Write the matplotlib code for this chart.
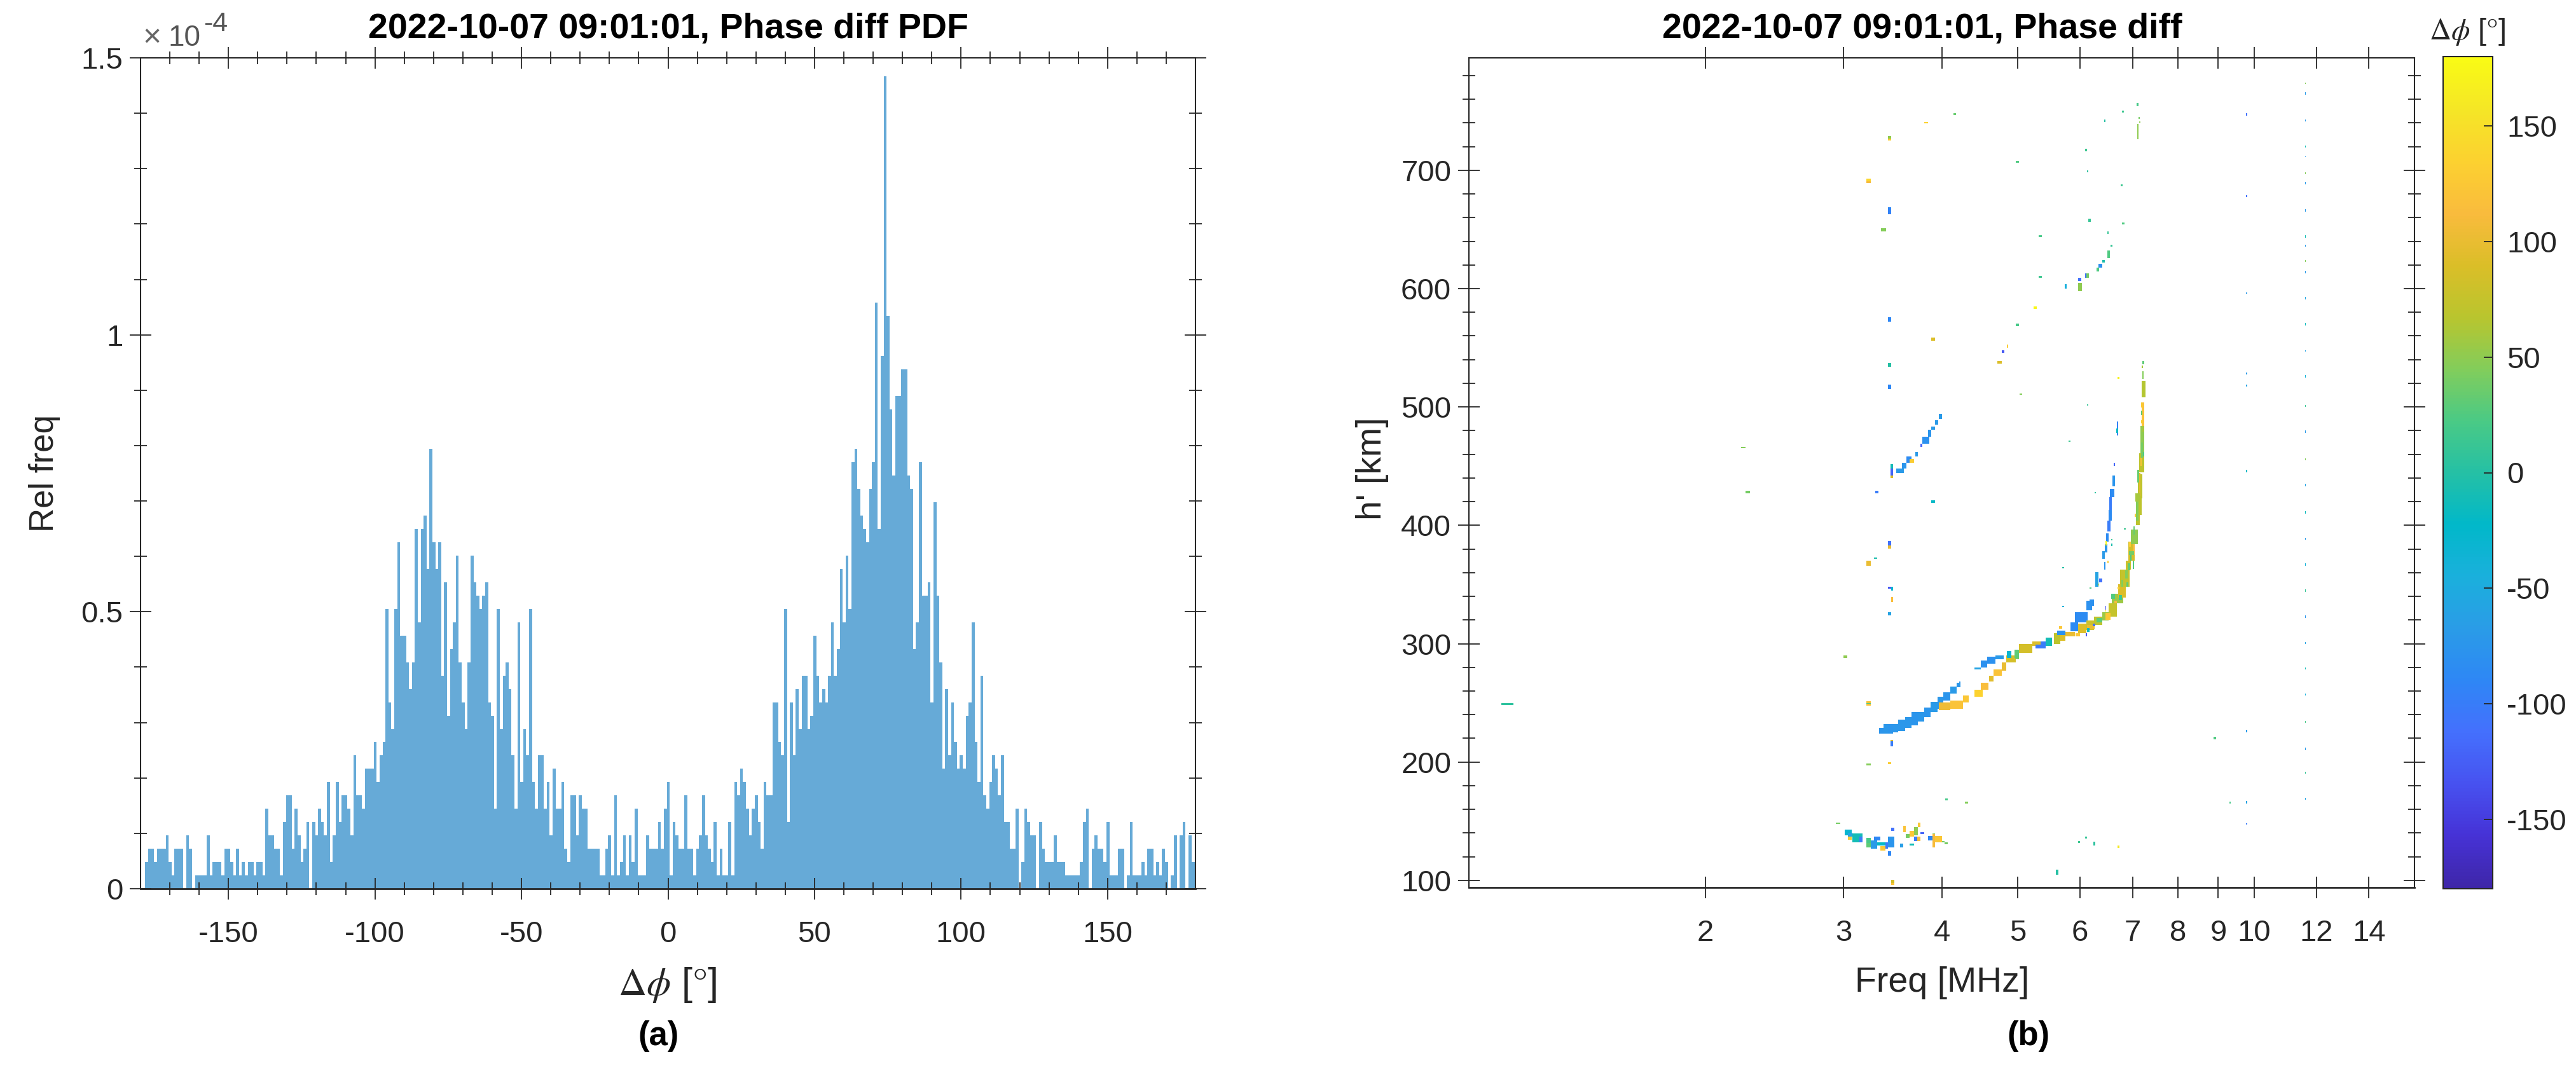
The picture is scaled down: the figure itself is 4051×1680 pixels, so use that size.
import numpy as np
import matplotlib
matplotlib.use("Agg")
import matplotlib.pyplot as plt
from matplotlib.cm import ScalarMappable
from matplotlib.colors import LinearSegmentedColormap, Normalize

plt.rcParams['font.family'] = ['Liberation Sans', 'DejaVu Sans']
plt.rcParams['mathtext.fontset'] = 'stix'

# histogram counts, one per degree, starting at -180
pdf_counts = [
    0,0,2,3,3,2,3,3,3,4, 2,1,3,3,3,0,4,3,0,1, 1,1,1,4,1,2,2,2,1,3, 3,2,1,3,1,2,1,2,2,1,
    2,2,1,6,4,4,3,3,1,5, 7,7,3,6,4,2,3,5,0,5, 4,6,5,4,8,2,4,8,5,7, 7,6,4,10,7,7,6,9,9,9,
    11,8,10,11,21,14,12,21,26,19, 19,17,15,17,27,20,27,28,24,33, 26,24,26,16,23,13,18,20,25,17,
    14,12,17,25,23,22,21,22,23,14, 13,6,21,12,16,17,15,10,6,20, 8,12,10,21,8,6,10,10,6,8,
    4,9,6,6,8,3,2,7,7,4, 7,6,6,3,3,3,3,1,1,3, 4,1,7,1,2,4,1,4,2,6, 1,1,1,4,3,3,3,5,3,6,
    8,1,5,4,3,3,7,3,3,1, 3,4,7,4,3,2,5,1,3,1, 1,5,1,8,7,9,8,6,4,6, 7,5,3,8,7,7,14,14,11,10,
    21,5,14,10,15,12,16,16,12,13, 19,16,14,15,14,16,20,16,18,24, 20,25,21,32,33,30,28,27,26,30,
    32,44,27,40,61,43,36,31,37,37, 39,39,31,30,18,20,32,22,22,23, 14,29,22,17,9,15,10,14,11,9,
    10,9,13,14,20,11,8,16,7,6, 8,10,9,7,10,5,5,3,3,6, 0,2,6,5,4,4,0,5,3,2,
    2,2,4,2,2,2,1,1,1,1, 1,2,5,6,0,3,4,3,3,2, 5,1,1,1,3,3,0,1,5,1,
    1,1,2,1,3,3,1,2,1,3, 2,0,1,4,0,4,5,0,4,2, 2]
pdf_unit = 2.405e-6

# ionogram cells: freq range, height range, phase diff
# lower blue branch, then the main trace, then upper branch
cell_f0 = [3.33,3.37,3.42,3.47,3.52,3.59,3.66,3.73,3.80,3.87,3.95,4.02,4.10,4.18,4.21,
    3.97,4.10,4.26,4.40,4.49,4.60,4.66,4.77,4.83,4.96,5.02,5.22,
    4.40,4.49,4.57,4.68,4.84,5.35,5.27,5.43,5.56,5.66,5.61,5.75,5.83,5.91,5.97,6.11,6.25,6.40,6.11,6.53,6.59,6.71,6.75,6.86,6.91,6.97,7.07,7.08,7.11,7.14,7.16,7.19,7.19,
    6.69,6.67,6.62,6.60,6.55,6.54,6.52,6.50,6.48,6.45,6.41,6.44,6.28,6.34,6.17,
    # f about 3.4 to 4
    3.97,3.92,3.88,3.84,3.78,3.76,3.70,3.61,3.56,3.64,3.50,3.44,3.44,3.44,3.42,3.42,3.21,3.28,3.42,3.45,3.45,3.42,2.25,2.22,3.29,3.88,3.0,
    3.42,3.21,3.21,3.44,3.44,3.42,3.21,4.04,4.28,2.93,
    # cluster near 135 km
    3.01,3.04,3.04,3.08,3.14,3.21,3.21,3.25,3.28,3.31,3.34,3.39,3.42,3.42,3.45,3.54,3.64,3.57,3.64,3.60,3.69,3.73,3.69,3.76,3.72,3.84,3.89,3.89,3.92,3.89,4.00,4.03,
    5.59,5.97,6.09,6.24,6.70,3.45,3.45,8.88,1.10,
    # stray cells above the trace
    3.42,3.42,3.80,4.14,7.09,6.79,7.12,7.13,7.10,6.44,6.09,4.97,6.13,6.76,
    3.21,3.21,3.42,3.42,3.35,6.15,6.78,6.50,5.32,6.56,6.50,6.41,6.33,6.30,6.11,6.09,5.97,5.97,5.32,5.74,5.24,4.97,3.42,3.88,4.77,4.84,4.71,3.42,6.70,
    # column near 11.6 MHz
    11.6,11.6,11.6,11.6,11.6,11.6,11.6,11.6, 11.6,11.6,11.6,11.6,11.6,11.6,11.6,11.6,
    11.6,11.6,11.6,11.6,11.6,11.6,11.6,11.6, 11.6,11.6,11.6,11.6,11.6,11.6,11.6,11.6,
    9.76,9.76,9.76,9.76,9.76,9.76,9.76,9.76,9.76,9.3]
cell_f1 = [3.37,3.42,3.47,3.52,3.59,3.66,3.73,3.80,3.87,3.95,4.02,4.10,4.18,4.23,4.23,
    4.10,4.26,4.33,4.51,4.59,4.66,4.77,4.83,4.97,5.02,5.22,5.35,
    4.49,4.57,4.68,4.80,4.91,5.43,5.35,5.53,5.66,5.75,5.75,5.91,5.97,6.14,6.11,6.25,6.40,6.53,6.22,6.69,6.81,6.86,6.94,6.97,7.04,7.11,7.15,7.19,7.21,7.24,7.24,7.24,7.27,
    6.71,6.71,6.65,6.65,6.64,6.59,6.59,6.56,6.52,6.50,6.45,6.46,6.33,6.40,6.25,
    4.00,3.96,3.92,3.88,3.86,3.78,3.73,3.66,3.61,3.69,3.58,3.47,3.47,3.47,3.45,3.45,3.25,3.31,3.45,3.47,3.47,3.45,2.28,2.25,3.32,3.92,3.03,
    3.45,3.25,3.25,3.47,3.47,3.45,3.25,4.07,4.32,2.97,
    3.07,3.08,3.07,3.17,3.17,3.25,3.25,3.31,3.34,3.39,3.39,3.42,3.48,3.45,3.48,3.57,3.69,3.60,3.69,3.64,3.73,3.76,3.73,3.80,3.76,3.89,3.92,3.92,4.00,3.92,4.03,4.07,
    5.63,6.00,6.13,6.28,6.74,3.48,3.48,8.94,1.14,
    3.45,3.45,3.84,4.17,7.12,6.82,7.15,7.16,7.12,6.47,6.12,5.02,6.15,6.80,
    3.25,3.25,3.45,3.45,3.40,6.19,6.84,6.53,5.37,6.60,6.55,6.45,6.40,6.34,6.16,6.11,6.02,6.03,5.37,5.77,5.29,5.02,3.45,3.92,4.81,4.86,4.77,3.45,6.73,
    11.63,11.63,11.63,11.63,11.63,11.63,11.63,11.63, 11.63,11.63,11.63,11.63,11.63,11.63,11.63,11.63,
    11.63,11.63,11.63,11.63,11.63,11.63,11.63,11.63, 11.63,11.63,11.63,11.63,11.63,11.63,11.63,11.63,
    9.79,9.79,9.79,9.79,9.79,9.79,9.79,9.79,9.79,9.33]
cell_h0 = [224,224,224,225,226,229,231,234,238,242,245,252,258,263,267,
    244,245,250.5,255,261,268,273,277,284,287,292,298,
    278,280,283,287,288,296,296,298,300,302.5,307,306,310.5,318,309,311.5,316,319.5,328,323,334,339,348,362.5,370,384,400,409,423,445,461,484,508,
    476,478,450,433,424,413,404,395,386,377,371.5,362.5,348,352,332,
    490,485,481,475,469,466.5,458,453,448,453,444,448,442,440,383,380.5,366,371.5,346.5,345,335,324,427,465,427,419,288,
    515,247.5,249,213.5,217.4,198,197,167.5,165,147.5,
    138,137,134.5,132,132,131.4,128,127,134,129.6,125,127,128,121,142,128,129.5,141,137,136,138,145,133,139,133,134,132,128,132,128,132,130.5,
    105,131.5,135.5,129.5,127.5,96,98,219,248,
    725,727,739.5,746.5,754,749,743.5,740,726.5,741,716,706.5,698.5,686.5,
    689,691,663,667,648.5,656.5,654,646,643.5,635.5,626,622,618,614.5,609,609,606.4,598,609,600,583,568.5,572,556,546,550,536.6,534,523.5,
    773,764,741.5,719.5,711,696.5,688,665,643,635.5,622.5,613,591,569,547,525,500,478,455,433,410,388,366,344,322,300,278,256,233,210,190,168,
    746,677.5,595.5,527.5,517.5,445,225,165,147,165]
cell_h1 = [229,232,232,232,236,238,242,242,246,251,255,259,264,267,268,
    250.5,252,256,261,267,273,278,284,290,294,300,302,
    280,286,289,290,294,302,299,305,309,310.5,311,310,318,326.7,317,319.5,323,326.7,336.5,334,342,350,362.5,370,386,396.5,411,423.4,443,461,484,504,522,
    488,482,453,442,431,424,413,404,393,384,378,369,360.7,355,337.5,
    494,489,483.5,481,475,469,462,458,453,456,448,452,448,442,387,383,370,373,348,348,339.6,326.7,429,466,429,421,290,
    519,251.4,250,217.4,218.6,200,198.5,169,166.5,149,
    143,140,137,139.5,137,136,131.4,134,137,132,128.7,132,137,124.6,144.5,131,131,146,142,139,145,149,137,140.5,137,137.6,139.5,131,137.6,139,133,132,
    109,133,137,132.5,129.5,98.6,100.5,221.5,250,
    727.4,729,741,748,757,750.5,745,741.5,739,743,718,708,700,688,
    692,693,668,669,651,659,656,648.5,645,637,632,624,621,618,613,613,609,604.6,610.5,604,585,570.5,576,558.5,548,552.7,538.7,537,525.5,
    774,766,743,721,712,698.5,690,667,645,637,624,615,593,571,548,527,501.5,480,456.5,435,412,389.5,368,346,324,301.5,280,258,235,212,192,170,
    748,679,597,529,519,447,227,167,148.5,166.5]
cell_phi = [-75,-72,-75,-72,-72,-72,-75,-72,-75,-70,-72,-75,-70,-72,-75,
    105,120,125,135,115,95,120,100,85,40,85,90,
    -60,-80,-80,-70,-30,-100,-105,-10,70,90,-80,100,-85,-85,90,80,70,55,-80,75,55,90,75,80,85,50,70,70,70,70,50,120,65,
    -95,-20,-120,-75,-85,-100,-85,-100,-85,-75,-70,-75,-60,-110,-80,
    -70,-70,-70,-75,-80,-120,-70,-85,-75,130,-70,-10,-120,90,-110,100,100,-5,-130,-30,115,-60,40,45,-100,-20,50,
    -90,120,20,-100,90,130,45,20,45,40,
    -30,-60,130,-10,-100,20,30,-70,-90,-20,125,-100,-75,-90,-110,-65,-10,120,125,40,50,125,-100,-120,110,-90,50,-40,125,110,40,40,
    0,15,10,5,160,120,85,25,5,
    130,50,135,35,20,15,40,50,50,0,15,25,5,15,
    110,140,-95,-90,45,10,25,10,20,10,25,-5,-80,25,40,-110,-110,50,15,-45,175,20,-90,90,-130,130,90,0,170,
    45,-70,-70,-10,-70,45,-70,-70,-10,-70,45,-70,-55,-15,-60,-40,10,-70,45,-60,-15,-70,-40,10,-75,-60,-10,-45,20,-70,10,-60,
    -110,-110,-70,-70,-60,-20,-70,-60,-100,20]

# finer cells on top of the main trace, and some lone dots beside it
fine_f0 = [7.02,7.04,7.07,7.10,7.13,7.06,7.19,7.18,7.22,7.16, 7.18,7.18,7.18,6.95,6.93,7.00,6.93,6.90,7.00,6.77,
    6.85,6.88,6.58,6.64,6.72,6.70,6.47,6.30,6.13,6.13, 6.23,6.10,6.46,6.46,5.64,5.92,4.95,6.47,6.50,6.33,
    5.03,6.12,5.80,6.26,6.83,6.57,6.57,5.70,5.70,6.17, 7.20,7.19,7.20]
fine_f1 = [7.05,7.09,7.12,7.13,7.16,7.15,7.24,7.22,7.25,7.19, 7.21,7.21,7.21,6.98,6.97,7.04,7.03,6.95,7.03,6.81,
    6.90,6.92,6.65,6.68,6.78,6.74,6.56,6.40,6.26,6.17, 6.27,6.12,6.48,6.48,5.70,6.00,5.02,6.49,6.52,6.35,
    5.06,6.15,5.83,6.29,6.86,6.60,6.60,5.73,5.73,6.20, 7.24,7.22,7.23]
fine_h0 = [392,407,404,436,425,420,479,457,458,450, 499.6,493,486,370,382,375,375,362,363,348,
    355,348,338,334,337,346,320,318,312,310, 315,306,329,327,312.5,306,288,383,368,349,
    510.2,501,470.5,427,396.5,387.5,382.5,363.5,331,346.5, 536,533,524]
fine_h1 = [399,410,420,447,444,427,484,470,462,457, 504,497,489,378,386,384,378,368,370,354,
    362,352,342,336,341,348,326,322,316,313, 317,309,332,329,315,309,295,387,370,351,
    511.2,502,471.5,428,397.5,388.5,384.5,364.5,332,347.5, 539,535,530]
fine_phi = [35,130,45,35,95,60,60,40,25,120, 130,30,135,20,130,110,40,30,25,45,
    45,30,25,110,15,130,125,30,100,-20, -110,-130,-130,150,125,125,30,175,130,170,
    45,10,15,5,15,10,-5,0,-40,25, 30,60,45]

x_ticks_a = [-150, -100, -50, 0, 50, 100, 150]
y_ticks_a = [0, 0.5e-4, 1e-4, 1.5e-4]
y_labels_a = ['0', '0.5', '1', '1.5']
x_ticks_b = [2, 3, 4, 5, 6, 7, 8, 9, 10, 12, 14]
cbar_ticks = [-150, -100, -50, 0, 50, 100, 150]

parula_anchors = ['#3E26A8', '#4632D6', '#4752F0', '#4470FD', '#2E87F5', '#2A9CE7', '#1AB0DC',
                  '#01B8C9', '#25C0A5', '#4ACA85', '#82CD5B', '#B9C52E', '#DBBE28', '#F9BB3D',
                  '#FCD130', '#F5E626', '#F9FB15']
parula = LinearSegmentedColormap.from_list('parula', parula_anchors, N=256)

W, H = 4051, 1680
ink = '#262626'
fs = 34


def add_ax(left, right, top, bottom):
    return fig.add_axes([left / W, 1 - bottom / H, (right - left) / W, (bottom - top) / H])


def style(ax):
    for s in ax.spines.values():
        s.set_linewidth(1.5)
        s.set_color(ink)
    ax.spines['bottom'].set_linewidth(2.0)
    ax.spines['bottom'].set_zorder(5)
    ax.tick_params(which='major', direction='inout', length=24, width=1.3, top=True, right=True,
                   colors=ink, labelsize=fs)
    ax.tick_params(which='minor', direction='inout', length=14, width=1.3, top=True, right=True, colors=ink)
    ax.tick_params(axis='x', which='major', pad=24)
    ax.tick_params(axis='y', which='major', pad=8)


fig = plt.figure(figsize=(W / 100, H / 100), dpi=100)

# (a) phase difference pdf
ax1 = add_ax(221, 1880, 91, 1398)
x_bins = np.arange(len(pdf_counts)) - 179.9
ax1.bar(x_bins, np.array(pdf_counts) * pdf_unit, width=1.0, color='#66AAD7', linewidth=0)
ax1.set_xlim(-180, 180)
ax1.set_ylim(0, 1.5e-4)
ax1.set_xticks(x_ticks_a, [str(t) for t in x_ticks_a])
ax1.set_xticks(np.arange(-170, 180, 10), minor=True)
ax1.set_yticks(y_ticks_a, y_labels_a)
ax1.set_yticks(np.arange(0, 1.51e-4, 0.1e-4), minor=True)
style(ax1)

# (b) ionogram
ax2 = add_ax(2310, 3797, 91, 1396)
norm = Normalize(-180, 180)
ax2.set_xscale('log')
for lo, hi, bot, top, phi in [(cell_f0, cell_f1, cell_h0, cell_h1, cell_phi),
                              (fine_f0, fine_f1, fine_h0, fine_h1, fine_phi)]:
    lo, hi, bot, top = map(np.array, (lo, hi, bot, top))
    ax2.bar(lo, top - bot, width=hi - lo, bottom=bot, align='edge', color=parula(norm(phi)), linewidth=0)
ax2.set_xlim(1, 16)
ax2.set_ylim(94, 795)
ax2.set_xticks(x_ticks_b, [str(t) for t in x_ticks_b])
ax2.set_xticks([], minor=True)
ax2.set_yticks(np.arange(100, 701, 100))
ax2.set_yticks(np.arange(100, 790, 20), minor=True)
style(ax2)

# colorbar
cax = add_ax(3842, 3920, 89, 1398)
cb = fig.colorbar(ScalarMappable(norm=norm, cmap=parula), cax=cax)
cb.set_ticks(cbar_ticks, labels=[str(t) for t in cbar_ticks])
cb.outline.set_linewidth(1.5)
cb.outline.set_edgecolor(ink)
cax.tick_params(direction='in', length=10, width=1.3, colors=ink, labelsize=fs, pad=16)
cax.minorticks_off()


def ftext(px, py, s, **kw):
    kw.setdefault('ha', 'center')
    kw.setdefault('va', 'center')
    kw.setdefault('color', ink)
    fig.text(px / W, 1 - py / H, s, **kw)


ftext(1051, 46, '2022-10-07 09:01:01, Phase diff PDF', fontsize=40, fontweight='bold', color='black')
ftext(3023, 46, '2022-10-07 09:01:01, Phase diff', fontsize=40, fontweight='bold', color='black')
ftext(1050, 1550, r'$\Delta\phi$ [$\degree$]', fontsize=44)
ftext(3054, 1546, 'Freq [MHz]', fontsize=40)
ftext(70, 745, 'Rel freq', fontsize=38, rotation=90)
ftext(2158, 737, "h' [km]", fontsize=40, rotation=90)
ftext(1036, 1630, '(a)', fontsize=38, fontweight='bold', color='black')
ftext(3190, 1630, '(b)', fontsize=38, fontweight='bold', color='black')
ftext(3880, 50, r'$\Delta\phi$ [$\degree$]', fontsize=34)
ftext(225, 61, '\u00d7', fontsize=36, ha='left', color='#666666')
ftext(265, 60, '10', fontsize=33, ha='left', color='#555555')
ftext(320, 38, '-4', fontsize=31, ha='left', color='#555555')

fig.savefig('out.png', dpi=100)
